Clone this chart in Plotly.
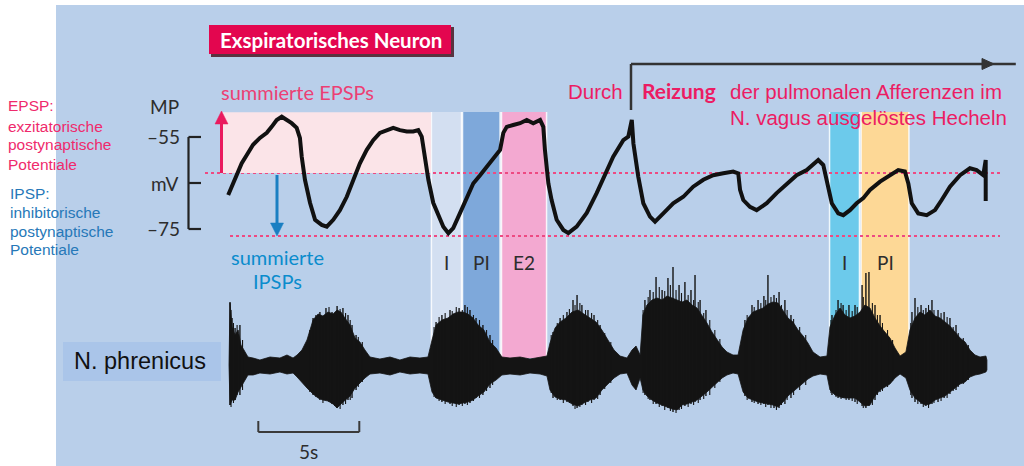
import plotly.graph_objects as go

# ---------------- data ----------------
# membrane potential of the expiratory neuron: time (s) and mV
MP_T = [0.01, 0.18, 0.43, 0.68, 0.93, 1.24, 1.58, 1.92, 2.16, 2.41, 2.66, 2.91, 3.15, 3.40,
        3.56, 3.65, 3.81, 4.06, 4.31, 4.64, 4.89, 5.21, 5.54, 5.88, 6.20, 6.53, 6.87, 7.19,
        7.52, 7.86, 8.18, 8.51, 8.85, 9.17, 9.42, 9.59, 9.75, 9.92, 10.16, 10.50, 10.66,
        10.91, 11.15, 11.49, 11.82, 12.14, 12.48, 12.81, 13.13, 13.47, 13.63, 13.80, 14.12,
        14.46, 14.79, 15.11, 15.45, 15.61, 15.69, 15.86, 16.02, 16.27, 16.60, 16.85, 17.26,
        17.76, 18.25, 18.75, 19.07, 19.57, 19.82, 19.99, 20.07, 20.31, 20.56, 20.89, 21.14,
        21.55, 22.04, 22.54, 23.03, 23.53, 24.02, 24.52, 25.01, 25.26, 25.35, 25.51, 25.84,
        26.17, 26.67, 27.16, 27.66, 28.15, 28.65, 29.14, 29.22, 29.47, 29.72, 29.89, 30.21,
        30.46, 30.79, 31.12, 31.45, 31.78, 32.28, 32.77, 33.18, 33.51, 33.68, 33.85, 34.17,
        34.59, 35.00, 35.33, 35.74, 36.24, 36.73, 37.06, 37.39, 37.51, 37.51]
MP_MV = [-67.6, -65.8, -63.6, -60.7, -58.9, -56.7, -55.2, -54.1, -52.8, -51.3, -50.6, -51.3,
         -52.0, -53.0, -55.2, -59.3, -64.3, -69.3, -73.0, -74.1, -74.5, -73.0, -70.9, -68.0,
         -64.3, -60.7, -57.8, -55.7, -54.1, -53.5, -53.0, -53.5, -53.8, -53.8, -53.5, -54.9,
         -59.3, -64.3, -69.3, -73.0, -74.5, -75.9, -74.8, -71.5, -68.0, -65.1, -63.3, -61.5,
         -60.0, -57.8, -54.1, -52.8, -52.4, -52.0, -51.3, -52.0, -51.3, -52.8, -57.8, -65.1,
         -68.7, -73.0, -75.2, -75.9, -74.5, -71.5, -67.2, -62.2, -59.3, -55.7, -54.9, -51.3,
         -56.4, -63.6, -69.4, -72.3, -73.4, -71.6, -69.4, -68.0, -65.8, -64.3, -63.3, -62.9,
         -62.5, -62.9, -66.5, -68.7, -70.2, -70.9, -69.4, -67.2, -65.1, -63.3, -62.2, -60.4,
         -60.0, -61.1, -65.8, -69.4, -71.6, -72.0, -70.9, -69.4, -68.3, -66.5, -64.7, -63.3,
         -62.2, -62.5, -65.1, -69.4, -71.6, -72.0, -70.9, -68.7, -65.8, -63.3, -61.8, -62.2,
         -63.3, -60.0, -68.9]

# N. phrenicus activity envelope: time (s), upper and lower amplitude (a.u.)
PHR_T = [0.05, 0.10, 0.20, 0.35, 0.50, 0.64, 0.79, 0.99, 1.24, 1.58, 2.08, 2.57, 2.92, 3.22,
         3.42, 3.66, 3.91, 4.21, 4.46, 4.70, 4.95, 5.20, 5.40, 5.59, 5.79, 6.04, 6.29, 6.53,
         6.78, 7.03, 7.52, 8.02, 8.51, 9.01, 9.50, 9.90, 10.10, 10.30, 10.59, 10.89, 11.14,
         11.39, 11.63, 11.88, 12.13, 12.38, 12.67, 12.97, 13.27, 13.56, 13.96, 14.46, 14.95,
         15.45, 15.79, 15.94, 16.19, 16.44, 16.73, 17.03, 17.33, 17.62, 17.92, 18.22, 18.51,
         18.81, 19.11, 19.41, 19.75, 20.00, 20.20, 20.40, 20.54, 20.74, 20.99, 21.24, 21.49,
         21.73, 21.98, 22.23, 22.48, 22.72, 22.97, 23.22, 23.47, 23.71, 23.96, 24.21, 24.46,
         24.70, 25.00, 25.25, 25.50, 25.74, 25.99, 26.24, 26.49, 26.73, 26.98, 27.23, 27.48,
         27.72, 27.97, 28.22, 28.47, 28.71, 28.96, 29.31, 29.65, 29.80, 30.05, 30.30, 30.54,
         30.79, 31.04, 31.29, 31.53, 31.78, 32.03, 32.28, 32.52, 32.77, 33.02, 33.27, 33.56,
         33.76, 34.01, 34.26, 34.50, 34.75, 35.00, 35.25, 35.50, 35.74, 35.99, 36.24, 36.49,
         36.73, 36.98, 37.23, 37.52, 37.57]
PHR_TOP = [0.0, 6.2, 3.8, 3.0, 3.5, 2.0, 1.5, 0.8, 0.7, 0.5, 0.8, 0.7, 1.0, 0.7,
           1.0, 1.5, 2.5, 4.5, 5.1, 4.9, 5.3, 5.1, 5.5, 5.3, 4.7, 4.0, 2.7, 2.3,
           1.5, 0.8, 0.6, 0.8, 0.5, 0.8, 0.7, 0.8, 2.5, 4.0, 4.5, 4.7, 5.1,
           5.3, 5.3, 5.1, 4.7, 4.0, 3.5, 2.3, 1.7, 0.8, 0.7, 0.8, 0.6,
           0.8, 0.9, 2.2, 3.7, 4.3, 4.7, 5.3, 5.5, 5.1, 4.7, 4.3, 3.5,
           2.5, 1.5, 0.9, 0.7, 1.5, 1.9, 1.0, 5.0, 6.0, 6.5, 6.7, 6.5,
           6.9, 6.7, 6.5, 6.3, 6.5, 6.0, 5.7, 5.0, 4.2, 3.3, 2.5, 1.8,
           1.3, 1.0, 1.0, 3.5, 4.7, 5.3, 5.5, 5.7, 6.1, 6.3, 6.2, 5.5,
           4.7, 4.3, 3.5, 2.9, 2.2, 1.3, 0.8, 0.9, 3.8, 5.0, 5.7, 5.0,
           4.7, 4.9, 5.3, 6.0, 5.7, 4.7, 3.9, 3.3, 2.7, 1.7, 0.9, 1.3,
           3.5, 4.7, 5.3, 5.0, 5.5, 4.9, 4.7, 4.3, 3.9, 3.3, 2.7, 2.3,
           1.5, 1.0, 0.8, 0.9, 0.5]
PHR_BOT = [0.0, -4.0, -3.5, -3.5, -2.7, -2.3, -1.7, -1.0, -1.0, -0.8, -0.9, -0.7, -0.9, -0.8,
           -1.2, -1.7, -2.3, -2.9, -3.3, -3.5, -3.6, -3.9, -4.3, -3.9, -3.5, -3.1, -2.3, -1.8,
           -1.3, -0.9, -0.8, -1.0, -0.7, -0.9, -0.8, -0.9, -2.7, -3.3, -3.5, -3.7, -3.8,
           -3.9, -3.8, -3.7, -3.5, -3.1, -2.7, -1.9, -1.5, -1.0, -0.9, -1.0, -0.8,
           -0.9, -1.1, -2.5, -3.2, -3.4, -3.5, -3.9, -4.1, -3.8, -3.5, -3.3, -2.5,
           -1.9, -1.3, -0.9, -0.8, -2.0, -2.5, -1.3, -2.5, -3.1, -3.5, -3.8, -4.0,
           -4.2, -4.4, -4.5, -4.0, -3.9, -3.7, -3.5, -3.1, -2.7, -2.3, -1.8, -1.3,
           -1.0, -0.8, -0.9, -2.7, -3.3, -3.5, -3.7, -3.8, -3.9, -4.0, -4.2, -3.7,
           -3.1, -2.7, -2.3, -1.8, -1.4, -1.1, -0.9, -1.0, -2.5, -3.0, -3.2, -3.3,
           -3.3, -3.3, -3.7, -4.1, -4.0, -3.1, -2.5, -2.2, -1.9, -1.3, -0.9, -1.3,
           -2.5, -3.3, -3.7, -4.0, -3.9, -3.5, -3.3, -3.1, -2.7, -2.3, -1.9, -1.7,
           -1.2, -1.0, -0.9, -0.7, -0.5]

# tallest single discharges of the phrenic bursts
SPK_T = [0.10, 0.20, 0.35, 0.59, 4.21, 4.55, 4.85, 5.15, 5.40, 5.69, 5.94, 6.14, 6.34,
         10.30, 10.59, 10.99, 11.44, 11.73, 11.98, 12.28, 12.62, 12.97,
         16.09, 16.44, 16.78, 17.08, 17.28, 17.52, 17.82, 18.12, 18.42,
         20.64, 20.89, 21.19, 21.49, 21.78, 22.03, 22.33, 22.62, 22.92, 23.12, 23.37, 23.66,
         25.59, 25.94, 26.24, 26.53, 26.73, 27.03, 27.28, 27.57, 27.87,
         29.90, 30.20, 30.45, 30.74, 31.04, 31.39, 31.58, 31.73, 32.03, 32.28,
         33.86, 34.01, 34.31, 34.55, 34.85, 35.15, 35.45, 35.74, 36.04]
SPK_TOP = [6.3, 4.7, 3.7, 4.0, 4.7, 5.3, 5.7, 5.3, 5.9, 5.7, 5.0, 4.0, 3.0,
           4.3, 5.0, 5.5, 5.7, 6.0, 5.5, 4.7, 4.0, 3.0,
           3.3, 4.7, 5.3, 6.5, 7.0, 6.0, 5.5, 5.0, 4.0,
           6.5, 7.5, 8.8, 7.5, 8.7, 9.8, 8.0, 8.3, 7.5, 9.0, 6.5, 5.5,
           4.5, 6.0, 6.5, 6.9, 9.0, 7.0, 7.3, 6.5, 5.0,
           5.0, 6.5, 6.0, 6.0, 6.0, 8.0, 9.2, 9.3, 6.0, 5.0,
           5.3, 6.7, 6.0, 5.7, 6.5, 5.5, 5.3, 4.7, 4.0]
SPK_BOT = [-4.0, -3.3, -3.5, -3.0, -3.0, -3.5, -3.5, -3.9, -4.3, -4.0, -3.5, -3.3, -2.5,
           -3.3, -3.7, -3.9, -4.0, -3.9, -3.8, -3.3, -3.0, -2.3,
           -3.3, -3.5, -3.7, -4.1, -4.3, -4.0, -3.7, -3.5, -3.0,
           -3.0, -3.5, -3.9, -4.1, -4.3, -4.7, -4.5, -4.1, -3.9, -3.7, -3.5, -3.1,
           -3.1, -3.7, -3.9, -3.9, -4.0, -4.3, -4.3, -3.9, -3.3,
           -3.0, -3.3, -3.3, -3.5, -3.7, -4.1, -4.3, -4.1, -3.5, -2.7,
           -3.3, -3.7, -3.9, -4.1, -3.9, -3.7, -3.3, -2.9, -2.5]

# further, medium-sized discharges inside the bursts
SPK2_T = [0.15, 0.27, 0.45, 0.72,
          4.05, 4.35, 4.70, 5.00, 5.28, 5.55, 5.82, 6.05, 6.45, 6.65,
          10.20, 10.45, 10.75, 11.10, 11.30, 11.60, 11.85, 12.15, 12.45, 12.80, 13.10,
          16.00, 16.30, 16.60, 16.90, 17.18, 17.42, 17.70, 18.00, 18.30, 18.65, 18.95,
          20.55, 20.80, 21.05, 21.35, 21.62, 21.90, 22.18, 22.45, 22.78, 23.05, 23.28, 23.55,
          23.85, 24.10, 24.35,
          25.70, 26.05, 26.38, 26.62, 26.88, 27.15, 27.40, 27.68, 28.00, 28.30, 28.60,
          29.85, 30.10, 30.35, 30.60, 30.90, 31.15, 31.45, 31.90, 32.15, 32.40, 32.65, 32.90,
          33.80, 34.15, 34.42, 34.68, 34.95, 35.30, 35.60, 35.90, 36.15, 36.40, 36.65]
SPK2_TOP = [5.5, 4.2, 4.0, 2.5,
            3.5, 5.0, 4.5, 5.8, 5.0, 5.6, 5.2, 4.5, 2.8, 2.3,
            3.8, 4.8, 5.2, 5.4, 5.8, 5.5, 5.8, 5.0, 4.5, 3.5, 2.5,
            3.0, 4.2, 5.0, 5.6, 6.0, 6.2, 5.5, 5.2, 4.5, 3.2, 2.3,
            5.5, 6.8, 7.3, 7.8, 7.4, 8.0, 7.5, 7.2, 7.0, 6.5, 6.3, 5.2,
            4.5, 3.5, 2.6,
            5.0, 5.8, 6.2, 6.5, 6.8, 6.7, 6.0, 5.5, 4.6, 3.8, 3.0,
            4.5, 5.5, 6.2, 5.5, 5.4, 5.8, 6.8, 6.2, 5.0, 4.2, 3.5, 2.5,
            4.2, 5.8, 5.5, 6.0, 5.5, 5.2, 4.8, 3.8, 3.2, 2.7, 2.0]
SPK2_BOT = [-4.2, -3.8, -3.0, -2.5,
            -2.7, -3.2, -3.8, -3.7, -4.1, -4.4, -3.9, -3.5, -2.2, -1.7,
            -3.2, -3.6, -3.9, -4.1, -4.2, -4.1, -4.0, -3.6, -3.3, -2.6, -2.0,
            -2.8, -3.5, -3.8, -3.8, -4.4, -4.2, -4.0, -3.8, -3.4, -2.4, -1.8,
            -2.8, -3.4, -3.9, -4.2, -4.5, -4.6, -4.8, -4.4, -4.2, -4.0, -3.8, -3.4,
            -3.0, -2.3, -1.7,
            -3.5, -3.8, -4.0, -4.2, -4.3, -4.5, -4.0, -3.5, -3.0, -2.5, -2.0,
            -2.8, -3.2, -3.4, -3.5, -3.6, -3.9, -4.3, -4.0, -3.0, -2.6, -2.2, -1.6,
            -3.0, -3.9, -4.2, -4.3, -3.8, -3.6, -3.3, -2.6, -2.2, -1.9, -1.5]

# respiratory phases marked as coloured bands (s)
PHASE_NAMES = ["I", "PI", "E2", "I", "PI"]
PHASE_START = [10.07, 11.61, 13.54, 29.78, 31.34]
PHASE_END = [11.56, 13.47, 15.77, 31.26, 33.71]
PHASE_COLORS = ["#d3dff1", "#7ea8da", "#f3a9d1", "#6ccaeb", "#fdd896"]

EPSP_LEVEL = -62.8      # mV, upper dotted line
IPSP_LEVEL = -76.5      # mV, lower dotted line
EPSP_TOP = -49.6        # mV, top of the summed-EPSP area
EPSP_AREA = [-0.30, 10.05]
MP_SCALE = [-55, -75]   # mV scale bar
SCALE_BAR_START = 1.5   # s
SCALE_BAR_S = 5         # s
STIM_T = 19.95          # s, start of vagal stimulation

W, H = 1024, 466
X_RANGE = [-11.287, 39.406]
Y_RANGE = [-126.52, -25.22]
Y2_RANGE = [-10.1, 36.5]


def px(x):
    return x / W


def py(y):
    return 1 - y / H


PINK = "#ec1c63"
DARK = "#2d2d2d"
MYRIAD = "Lato, 'Open Sans', sans-serif"
ARIAL = "'Liberation Sans', Arial, sans-serif"

fig = go.Figure()

# membrane potential trace
fig.add_trace(go.Scatter(x=MP_T, y=MP_MV, mode="lines", yaxis="y",
                         line=dict(color="#111111", width=4), hoverinfo="skip"))

# phrenic nerve envelope
env_x = PHR_T + PHR_T[::-1]
env_y = PHR_TOP + PHR_BOT[::-1]
fig.add_trace(go.Scatter(x=env_x, y=env_y, mode="lines", fill="toself", yaxis="y2",
                         fillcolor="#141414", line=dict(color="#141414", width=0.8),
                         hoverinfo="skip"))
# phrenic single discharges
for ts, tops, bots, lw in ((SPK_T, SPK_TOP, SPK_BOT, 1.4), (SPK2_T, SPK2_TOP, SPK2_BOT, 1.1)):
    sx, sy = [], []
    for t, top, bot in zip(ts, tops, bots):
        sx += [t, t, None]
        sy += [bot, top, None]
    fig.add_trace(go.Scatter(x=sx, y=sy, mode="lines", yaxis="y2",
                             line=dict(color="#141414", width=lw), hoverinfo="skip"))

shapes = []
# blue panel background
shapes.append(dict(type="rect", xref="paper", yref="paper", x0=px(56), x1=1, y0=0, y1=py(5),
                   fillcolor="#b9cfea", line=dict(width=0), layer="below"))
# summed EPSP area
shapes.append(dict(type="rect", xref="x", yref="y", x0=EPSP_AREA[0], x1=EPSP_AREA[1],
                   y0=EPSP_LEVEL, y1=EPSP_TOP, fillcolor="#fbe4e8",
                   line=dict(width=0), layer="below"))
# phase bands
for s, e, c in zip(PHASE_START, PHASE_END, PHASE_COLORS):
    shapes.append(dict(type="rect", xref="x", yref="paper", x0=s, x1=e,
                       y0=py(358), y1=py(112), fillcolor=c, line=dict(width=0), layer="below"))
    for xe in (s, e):
        shapes.append(dict(type="line", xref="x", yref="paper", x0=xe, x1=xe,
                           y0=py(358), y1=py(112),
                           line=dict(color="rgba(255,255,255,0.85)", width=1.5), layer="below"))
# dotted reference levels
shapes.append(dict(type="line", xref="paper", yref="y", x0=px(205), x1=px(1000),
                   y0=EPSP_LEVEL, y1=EPSP_LEVEL, line=dict(color="#ee4a82", width=2, dash="dot"),
                   layer="below"))
shapes.append(dict(type="line", xref="paper", yref="y", x0=px(230), x1=px(1000),
                   y0=IPSP_LEVEL, y1=IPSP_LEVEL, line=dict(color="#ee4a82", width=2, dash="dot"),
                   layer="below"))
# mV scale bracket
mid = (MP_SCALE[0] + MP_SCALE[1]) / 2
shapes.append(dict(type="line", xref="paper", yref="y", x0=px(188.5), x1=px(188.5),
                   y0=MP_SCALE[0], y1=MP_SCALE[1], line=dict(color="#222", width=2.2)))
for yv in (MP_SCALE[0], mid, MP_SCALE[1]):
    shapes.append(dict(type="line", xref="paper", yref="y", x0=px(188.5), x1=px(201),
                       y0=yv, y1=yv, line=dict(color="#222", width=2.2)))
# time scale bar (5 s)
shapes.append(dict(type="line", xref="x", yref="paper", x0=SCALE_BAR_START,
                   x1=SCALE_BAR_START + SCALE_BAR_S, y0=py(432), y1=py(432),
                   line=dict(color="#3a3a3a", width=2)))
for xe in (SCALE_BAR_START, SCALE_BAR_START + SCALE_BAR_S):
    shapes.append(dict(type="line", xref="x", yref="paper", x0=xe, x1=xe,
                       y0=py(432), y1=py(421), line=dict(color="#3a3a3a", width=2)))
# stimulation bracket arrow
shapes.append(dict(type="line", xref="x", yref="paper", x0=STIM_T, x1=STIM_T,
                   y0=py(110), y1=py(64), line=dict(color="#333", width=2.5)))
shapes.append(dict(type="line", xref="x", yref="paper", x0=STIM_T, x1=39.0,
                   y0=py(64), y1=py(64), line=dict(color="#333", width=2.5)))
shapes.append(dict(type="path", xref="paper", yref="paper",
                   path=f"M {px(982)} {py(58.5)} L {px(994)} {py(64)} L {px(982)} {py(69.5)} Z",
                   fillcolor="#333", line=dict(color="#333", width=1)))


def vert_arrow(x, y_tail, y_tip, color):
    d = 1 if y_tip > y_tail else -1
    base = y_tip - d * 13
    shapes.append(dict(type="line", xref="paper", yref="paper", x0=px(x), x1=px(x),
                       y0=py(y_tail), y1=py(base), line=dict(color=color, width=3)))
    shapes.append(dict(type="path", xref="paper", yref="paper",
                       path=f"M {px(x - 6.5)} {py(base)} L {px(x)} {py(y_tip)} L {px(x + 6.5)} {py(base)} Z",
                       fillcolor=color, line=dict(color=color, width=0.5)))


vert_arrow(221.5, 173, 111, "#ea1a5e")
vert_arrow(277, 175, 236, "#1a7fc2")

# title box
shapes.append(dict(type="rect", xref="paper", yref="paper", x0=px(211), x1=px(454),
                   y0=py(57), y1=py(27), fillcolor="#5a3340", line=dict(width=0)))
shapes.append(dict(type="rect", xref="paper", yref="paper", x0=px(209), x1=px(451),
                   y0=py(54), y1=py(25), fillcolor="#e3064f", line=dict(width=0)))
# N. phrenicus label box
shapes.append(dict(type="rect", xref="paper", yref="paper", x0=px(63), x1=px(221),
                   y0=py(381), y1=py(342), fillcolor="#aac5e9", line=dict(width=0), layer="below"))

ann = []


def txt(text, x, y, size, color, family=MYRIAD, xanchor="left", bold=False):
    ann.append(dict(text=f"<b>{text}</b>" if bold else text, x=px(x), y=py(y),
                    xref="paper", yref="paper", xanchor=xanchor, yanchor="middle",
                    showarrow=False, font=dict(size=size, color=color, family=family)))


txt("Exspiratorisches Neuron", 331, 40, 20.5, "white", bold=True, xanchor="center")
txt("summierte EPSPs", 219, 92, 20, "#ec3f74")
txt("summierte", 277, 257, 20, "#0a8ccd", xanchor="center")
txt("IPSPs", 277, 281, 20, "#0a8ccd", xanchor="center")
txt("MP", 164, 107, 19, DARK, xanchor="center")
txt("–55", 182, 136, 19, DARK, xanchor="right")
txt("mV", 164, 183, 19, DARK, xanchor="center")
txt("–75", 182, 228, 19, DARK, xanchor="right")
for name, s, e in zip(PHASE_NAMES, PHASE_START, PHASE_END):
    ann.append(dict(text=name, x=(s + e) / 2, y=py(262), xref="x", yref="paper",
                    xanchor="center", yanchor="middle", showarrow=False,
                    font=dict(size=19, color=DARK, family=MYRIAD)))
ann.append(dict(text="5s", x=SCALE_BAR_START + SCALE_BAR_S / 2, y=py(451), xref="x",
                yref="paper", xanchor="center", yanchor="middle", showarrow=False,
                font=dict(size=19, color=DARK, family=MYRIAD)))
txt("N. phrenicus", 72, 361, 23.5, "#111", family=ARIAL)

txt("Durch", 625, 91, 20.5, PINK, family=ARIAL, xanchor="right")
txt("Reizung", 640, 90, 21, PINK, bold=True)
txt("der pulmonalen Afferenzen im", 728, 91, 20.5, PINK, family=ARIAL)
txt("N. vagus ausgelöstes Hecheln", 1009, 117, 20.5, PINK, family=ARIAL, xanchor="right")

for line, y in zip(["EPSP:", "exzitatorische", "postynaptische", "Potentiale"],
                   [106, 126, 145, 164]):
    txt(line, 6, y, 15.5, "#ef2a6c", family=ARIAL)
for line, y in zip(["IPSP:", "inhibitorische", "postynaptische", "Potentiale"],
                   [193, 212, 231, 250]):
    txt(line, 8, y, 15.5, "#2678b8", family=ARIAL)

fig.update_layout(
    width=W, height=H, margin=dict(l=0, r=0, t=0, b=0),
    paper_bgcolor="white", plot_bgcolor="white", showlegend=False,
    xaxis=dict(range=X_RANGE, visible=False, domain=[0, 1], fixedrange=True),
    yaxis=dict(range=Y_RANGE, visible=False, domain=[0, 1], fixedrange=True),
    yaxis2=dict(range=Y2_RANGE, visible=False, overlaying="y", fixedrange=True),
    shapes=shapes, annotations=ann,
)

fig.write_html("out.html", config={"displayModeBar": False},
               post_script="document.body.style.margin='0';document.body.style.overflow='hidden';")
